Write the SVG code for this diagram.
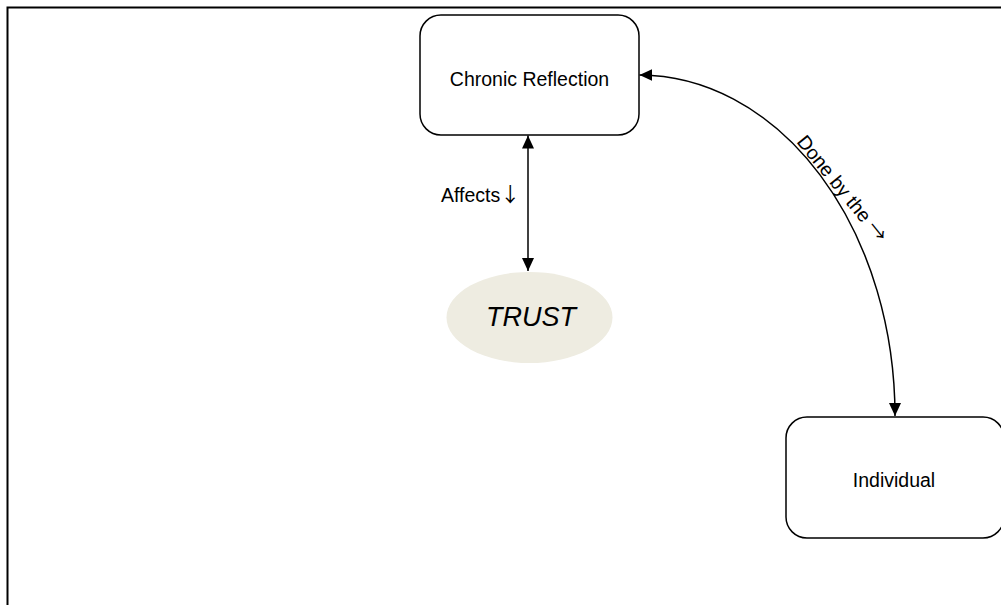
<svg xmlns="http://www.w3.org/2000/svg" width="1001" height="605" viewBox="0 0 1001 605">
<style>
.box{fill:#fff;stroke:#000;stroke-width:1.5}
.lbl{font-family:"Liberation Sans",Arial,sans-serif;font-size:19.5px;fill:#000}
.arr{font-family:"Noto Sans CJK JP","DejaVu Sans",sans-serif}
.conn{fill:none;stroke:#000;stroke-width:1.5}
</style>
<defs>
<marker id="ah" markerUnits="userSpaceOnUse" markerWidth="14" markerHeight="14" viewBox="0 0 14 14" refX="13" refY="7" orient="auto-start-reverse">
<path d="M0,1 L13,7 L0,13 Z" fill="#000"/>
</marker>
</defs>
<rect x="0" y="0" width="1001" height="605" fill="#fff"/>
<path d="M7.5,605 V7.5 H1001" fill="none" stroke="#000" stroke-width="2"/>
<g id="connectors">
<line class="conn" x1="528" y1="135.5" x2="528" y2="271" marker-start="url(#ah)" marker-end="url(#ah)"/>
<path class="conn" d="M639.5,75 A256,341 0 0 1 895,416" marker-start="url(#ah)" marker-end="url(#ah)"/>
<text class="lbl" x="441" y="202">Affects<tspan class="arr" font-size="20">↓</tspan></text>
<text class="lbl" x="796" y="142" font-size="19" transform="rotate(51 796 142)">Done by the <tspan class="arr" font-size="20">→</tspan></text>
</g>
<g id="chronic">
<rect class="box" x="420" y="15" width="219" height="120" rx="21" ry="21"/>
<text class="lbl" x="529.5" y="86" text-anchor="middle">Chronic Reflection</text>
</g>
<g id="trust">
<ellipse cx="529.5" cy="317.5" rx="83" ry="45.5" fill="#EEECE1"/>
<text x="531" y="326" text-anchor="middle" font-family="Liberation Sans,Arial,sans-serif" font-style="italic" font-size="27" fill="#000">TRUST</text>
</g>
<g id="individual">
<rect class="box" x="786" y="417" width="218" height="121" rx="21" ry="21"/>
<text class="lbl" x="894" y="487" text-anchor="middle">Individual</text>
</g>
</svg>
